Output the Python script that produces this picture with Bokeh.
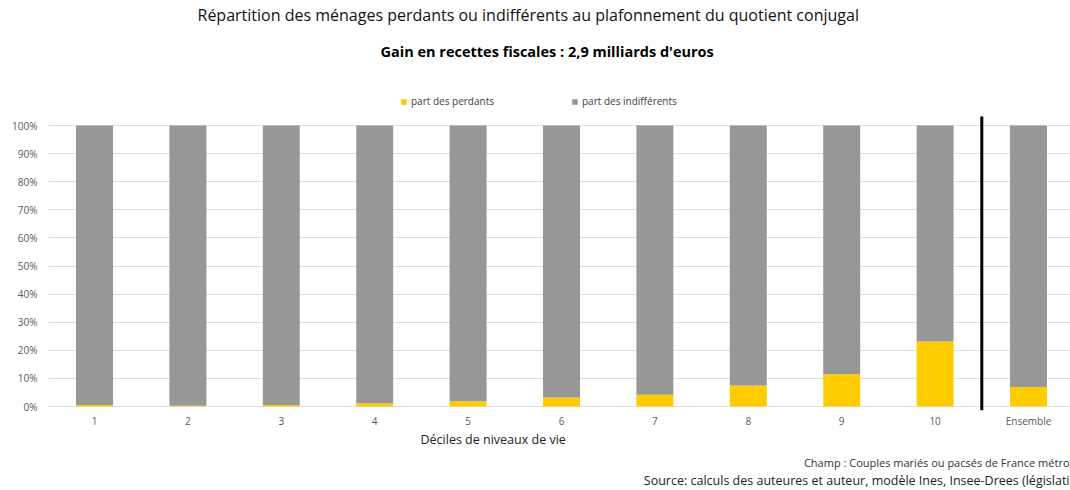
from bokeh.plotting import figure
from bokeh.models import (ColumnDataSource, Title, Legend, LegendItem,
                          FixedTicker, NumeralTickFormatter, Range1d)
from bokeh.embed import file_html
from bokeh.resources import INLINE

# ---- data ----
categories = ["1", "2", "3", "4", "5", "6", "7", "8", "9", "10", "Ensemble"]
positions = [1, 2, 3, 4, 5, 6, 7, 8, 9, 10, 11]
perdants = [0.005, 0.003, 0.005, 0.012, 0.019, 0.032, 0.042, 0.075, 0.115, 0.231, 0.069]
indifferents = [0.995, 0.997, 0.995, 0.988, 0.981, 0.968, 0.958, 0.925, 0.885, 0.769, 0.931]
y_ticks = [0.0, 0.1, 0.2, 0.3, 0.4, 0.5, 0.6, 0.7, 0.8, 0.9, 1.0]
series_labels = ["part des perdants", "part des indifférents"]
separator_x = [10.5]

title_text = "Répartition des ménages perdants ou indifférents au plafonnement du quotient conjugal"
subtitle_text = "Gain en recettes fiscales : 2,9 milliards d'euros"
xlabel_text = "Déciles de niveaux de vie"
champ_text = "Champ : Couples mariés ou pacsés de France métro"
source_text = "Source: calculs des auteures et auteur, modèle Ines, Insee-Drees (législati"

YELLOW = "#FFCC00"
GRAY = "#979797"
FONT = "Open Sans"

source = ColumnDataSource(dict(x=positions, perdants=perdants, indifferents=indifferents))

# page-pixel layout of the frame
W, H = 1070, 490
frame_left, frame_right, frame_top, frame_bottom = 48, 1070, 90, 410
X0, DX = 94.0, 93.4      # page x of category 1 centre, px per category
Y0, DY = 406.0, 281.0    # page y of 0 %, px per 100 %

def dx(px):
    return 1 + (px - X0) / DX

def dy(py):
    return (Y0 - py) / DY

p = figure(width=W, height=H, output_backend="svg", toolbar_location=None, title=None,
           x_range=Range1d(dx(frame_left), dx(frame_right)),
           y_range=Range1d(dy(frame_bottom), dy(frame_top)),
           min_border_left=frame_left, min_border_right=W - frame_right,
           min_border_top=frame_top, min_border_bottom=H - frame_bottom)
p.outline_line_color = None
p.background_fill_color = "white"
p.border_fill_color = "white"

renderers = p.vbar_stack(["perdants", "indifferents"], x="x", width=0.396,
                         color=[YELLOW, GRAY], line_color=None, source=source)

# separator line before "Ensemble" (spans the plot area, 116 -> 410 px)
p.segment(x0=separator_x, x1=separator_x, y0=[dy(410)], y1=[dy(116)],
          line_color="black", line_width=3)

# axes
p.xaxis.ticker = FixedTicker(ticks=positions)
p.xaxis.major_label_overrides = {pos: c for pos, c in zip(positions, categories)}
p.yaxis.ticker = FixedTicker(ticks=y_ticks)
p.yaxis.formatter = NumeralTickFormatter(format="0%")
for ax in (p.xaxis[0], p.yaxis[0]):
    ax.axis_line_color = None
    ax.major_tick_line_color = None
    ax.minor_tick_line_color = None
    ax.major_tick_out = 0
    ax.major_tick_in = 0
    ax.minor_tick_out = 0
    ax.major_label_text_font = FONT
    ax.major_label_text_font_size = "10px"
    ax.major_label_text_color = "#595959"
p.xaxis.major_label_standoff = 3
p.yaxis.major_label_standoff = 11

p.xgrid.grid_line_color = None
p.ygrid.ticker = FixedTicker(ticks=y_ticks)
p.ygrid.grid_line_color = "#dedede"
p.ygrid.grid_line_width = 1

# legend (inside the top strip of the frame)
legend = Legend(items=[LegendItem(label=series_labels[0], renderers=[renderers[0]]),
                       LegendItem(label=series_labels[1], renderers=[renderers[1]])],
                orientation="horizontal", location=(400 - frame_left, frame_bottom - 108),
                padding=0, margin=0, spacing=77, glyph_width=7, glyph_height=7,
                label_standoff=4, label_height=12, label_text_font=FONT,
                label_text_font_size="10px", label_text_color="#404040",
                border_line_alpha=0, background_fill_alpha=0)
p.add_layout(legend)

# titles (stacked outward from the frame)
p.add_layout(Title(text=subtitle_text, text_font=FONT, text_font_size="14.5px",
                   text_font_style="bold", text_color="black", align="left",
                   offset=380 - frame_left, standoff=60), "above")
p.add_layout(Title(text=title_text, text_font=FONT, text_font_size="16px",
                   text_font_style="normal", text_color="#111111", align="left",
                   offset=197 - frame_left, standoff=-33), "above")

# bottom texts
p.add_layout(Title(text=xlabel_text, text_font=FONT, text_font_size="12.5px",
                   text_font_style="normal", text_color="#222222", align="left",
                   offset=420 - frame_left, standoff=-3), "below")
p.add_layout(Title(text=champ_text, text_font=FONT, text_font_size="11px",
                   text_font_style="normal", text_color="#333333", align="right",
                   offset=1, standoff=13), "below")
p.add_layout(Title(text=source_text, text_font=FONT, text_font_size="12.5px",
                   text_font_style="normal", text_color="#222222", align="right",
                   offset=1, standoff=-13), "below")

open("out.html", "w").write(file_html(p, INLINE))
